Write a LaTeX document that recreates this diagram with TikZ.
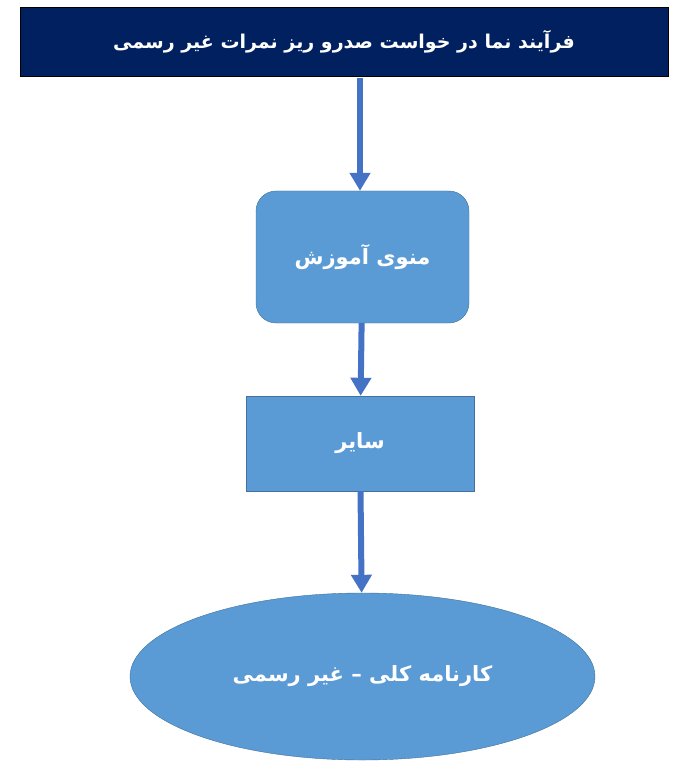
\documentclass[tikz,border=0pt]{standalone}
\usepackage{fontspec}
\usetikzlibrary{arrows.meta,shapes.geometric}
\newfontfamily\arabicfont[Script=Arabic]{DejaVu Sans}
\TeXXeTstate=1
\definecolor{navy}{HTML}{002060}
\definecolor{boxblue}{HTML}{5B9BD5}
\definecolor{boxedge}{HTML}{41719C}
\definecolor{flowblue}{HTML}{4472C4}
\tikzset{
  fa/.style={text=white, font=\arabicfont\bfseries\fontsize{21}{25}\selectfont},
  flow/.style={draw=flowblue, line width=6pt, -{Triangle[width=20pt,length=18pt]}}
}

\begin{document}
\begin{tikzpicture}[x=1pt,y=-1pt]
	\useasboundingbox (0,0) rectangle (683,767);
	\draw (344,41.5) node[fill=navy, draw=black, minimum width=648pt, minimum height=69pt, fa, font=\arabicfont\bfseries\fontsize{19}{23}\selectfont](title) {\beginR فرآیند نما در خواست صدرو ریز نمرات غیر رسمی\endR};
	\draw (362.5,257) node[fill=boxblue, draw=boxedge, rounded corners=20pt, minimum width=213pt, minimum height=132pt, fa](menu) {\beginR منوی آموزش\endR};
	\draw (360,443.5) node[fill=boxblue, draw=boxedge, minimum width=228pt, minimum height=95pt, fa](other) {\beginR سایر\endR};
	\draw (362.5,676.5) node[ellipse, fill=boxblue, draw=boxedge, minimum width=465pt, minimum height=167pt, fa](report) {\beginR کارنامه کلی – غیر رسمی\endR};
	\draw[flow] ([yshift=-2pt]title.south -| 360,0) -- (menu.north -| 360,0);
	\draw[flow] (menu) -- (other);
	\draw[flow] (other) -- (report);
\end{tikzpicture}
\end{document}
